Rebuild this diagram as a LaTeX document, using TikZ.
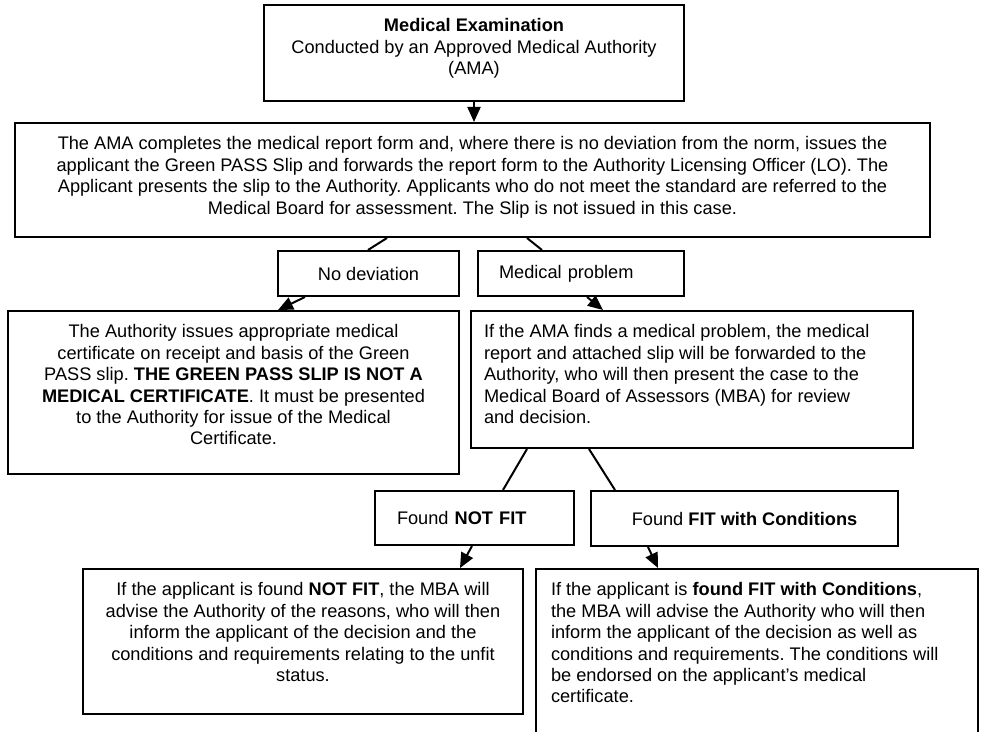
\documentclass[tikz,border=0pt]{standalone}
\usepackage{fontspec}
\setmainfont{Liberation Sans}
\usetikzlibrary{arrows.meta}
\frenchspacing
\newcommand{\boxtext}[3]{\parbox[c][#2][t]{#1}{#3}}

\begin{document}
\begin{tikzpicture}[x=0.5pt,y=-0.5pt,
font=\fontsize{9.1pt}{10.7pt}\selectfont,
rect0/.style={rectangle,draw=black,line width=1pt,anchor=north west,inner xsep=7pt,inner ysep=6pt},
rect1/.style={rectangle,draw=black,line width=1pt,anchor=north west,align=center,inner sep=0pt},
conn/.style={line width=1pt},
arr/.style={line width=1pt,-{Triangle[length=7.5pt,width=6.5pt]}},
]
\useasboundingbox (0,0) rectangle (981,732);
\clip (0,0) rectangle (981,732);

% Medical examination flow
\node[rect0] (exam) at (263,4) {\boxtext{196pt}{36pt}{\centering\strut\textbf{Medical Examination}\\
Conducted by an Approved Medical Authority\\
(AMA)}};

\node[rect0] (report) at (14,122) {\boxtext{443.5pt}{45pt}{\centering\strut The AMA completes the medical report form and, where there is no deviation from the norm, issues the\\
applicant the Green PASS Slip and forwards the report form to the Authority Licensing Officer (LO). The\\
Applicant presents the slip to the Authority. Applicants who do not meet the standard are referred to the\\
Medical Board for assessment. The Slip is not issued in this case.}};

\node[rect1,minimum width=90.5pt,minimum height=22.5pt] (nodev) at (277,250) {No deviation};
\node[rect1,minimum width=103pt,minimum height=22.5pt,text width=82pt,align=left,inner xsep=10.5pt] (medprob) at (477,250) {Medical problem};

\node[rect0] (issue) at (7,310) {\boxtext{211.5pt}{69.5pt}{\centering\strut The Authority issues appropriate medical\\
certificate on receipt and basis of the Green\\
PASS slip. \textbf{THE GREEN PASS SLIP IS NOT A}\\
\textbf{MEDICAL CERTIFICATE}. It must be presented\\
to the Authority for issue of the Medical\\
Certificate.}};

\node[rect0,inner xsep=6.5pt] (refer) at (470,310) {\boxtext{208pt}{56.5pt}{\raggedright\strut If the AMA finds a medical problem, the medical\\
report and attached slip will be forwarded to the\\
Authority, who will then present the case to the\\
Medical Board of Assessors (MBA) for review\\
and decision.}};

\node[rect1,minimum width=99.5pt,minimum height=27pt,text width=77.5pt,align=left,inner xsep=11pt] (notfit) at (374,490) {Found \textbf{NOT FIT}};
\node[rect1,minimum width=153.5pt,minimum height=27.5pt] (fitcond) at (590,490) {Found \textbf{FIT with Conditions}};

\node[rect0] (unfit) at (82,568) {\boxtext{206pt}{60.5pt}{\centering\strut If the applicant is found \textbf{NOT FIT}, the MBA will\\
advise the Authority of the reasons, who will then\\
inform the applicant of the decision and the\\
conditions and requirements relating to the unfit\\
status.}};

\node[rect0,inner xsep=7.5pt] (fitinfo) at (535,568) {\boxtext{206pt}{84pt}{\raggedright\strut If the applicant is \textbf{found FIT with Conditions},\\
the MBA will advise the Authority who will then\\
inform the applicant of the decision as well as\\
conditions and requirements. The conditions will\\
be endorsed on the applicant’s medical\\
certificate.}};

\path[conn] ([xshift=186.5pt]report.south west) edge ([xshift=45.5pt]nodev.north west)
            ([xshift=256.5pt]report.south west) edge ([xshift=32.5pt]medprob.north west)
            ([xshift=28.5pt]refer.south west) edge ([xshift=64.5pt]notfit.north west)
            ([xshift=59.5pt]refer.south west) edge ([xshift=12.5pt]fitcond.north west);

\path[arr]  (exam.south) edge (exam.south |- report.north)
            ([xshift=14pt]nodev.south west) edge ([xshift=135.5pt]issue.north west)
            ([xshift=55pt]medprob.south west) edge ([xshift=66.5pt]refer.north west)
            ([xshift=49pt]notfit.south west) edge ([xshift=189pt]unfit.north west)
            ([xshift=29pt]fitcond.south west) edge ([xshift=61.5pt]fitinfo.north west);

\end{tikzpicture}
\end{document}
